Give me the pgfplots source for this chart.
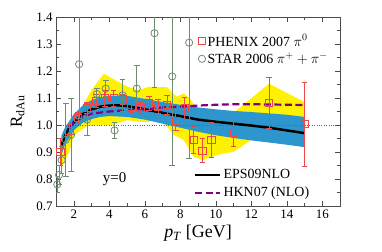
\documentclass[border=0pt]{standalone}
\usepackage{fontspec}
\setmainfont{Liberation Serif}
\usepackage{pgfplots}
\pgfplotsset{compat=1.18}
\definecolor{phx}{RGB}{240,70,70}
\definecolor{star}{RGB}{110,140,110}
\definecolor{band}{RGB}{45,150,205}
\definecolor{hkn}{RGB}{128,0,128}
\pgfplotsset{myax/.style={
  scale only axis, width=284bp, height=189bp,
  xmin=1, xmax=17, ymin=0.7, ymax=1.4,
  xtick={2,4,...,16}, ytick={0.7,0.8,0.9,1.0,1.1,1.2,1.3,1.4},
  minor x tick num=1, minor y tick num=1,
  tick align=inside, major tick length=5bp, minor tick length=3bp,
  /pgf/number format/assume math mode=true,
  yticklabel style={/pgf/number format/fixed,/pgf/number format/fixed zerofill,/pgf/number format/precision=1},
  tick label style={font=\fontsize{13}{15}\selectfont},
  axis line style={black!70},
  tick style={black!70},
}}
\begin{document}
\begin{tikzpicture}
\begin{axis}[myax, hide axis,
  legend style={draw=none, fill=none, at={(0.475,0.215)}, anchor=north west,
    font=\fontsize{14}{16}\selectfont, row sep=3bp, cells={anchor=west}},
  legend image code/.code={\draw[#1] (0bp,0bp) -- (25bp,0bp);}]
\addplot[fill=yellow, draw=none, forget plot] coordinates {
(1.3,0.93) (1.5,0.96) (1.8,1.01) (2.5,1.07) (3.0,1.13) (3.7,1.19) (4.5,1.16) (5.1,1.14) (5.7,1.13) (6.25,1.142) (6.75,1.14) (7.25,1.14) (7.8,1.105) (8.2,1.117) (8.6,1.093) (9.05,1.043) (9.5,1.018) (10.0,1.01) (10.5,1.0) (11.0,1.045) (13.0,1.153) (15.0,1.085)
(15.0,0.96) (14.0,0.975) (13.0,0.99) (12.0,0.945) (11.0,0.90) (10.45,0.895) (9.8,0.883) (9.25,0.87) (8.75,0.883) (8.2,0.944) (7.65,0.963) (7.25,0.994) (6.75,1.03) (6.25,1.012) (5.75,1.012) (5.0,1.018) (4.2,1.0) (3.5,1.0) (2.7,0.995) (2.0,0.96) (1.75,0.90) (1.5,0.87) (1.3,0.84)} -- cycle;
\addplot[fill=band, draw=none, forget plot] coordinates {
(1.3,0.96) (1.5,0.99) (2.0,1.04) (2.5,1.072) (3.0,1.092) (3.5,1.103) (4.0,1.108) (5.0,1.108) (6.0,1.097) (7.0,1.085) (8.0,1.075) (9.0,1.065) (10.0,1.058) (11.0,1.052) (12.0,1.048) (13.0,1.043) (14.0,1.038) (15.0,1.03)
(15.0,0.918) (14.0,0.927) (13.0,0.935) (12.0,0.943) (11.0,0.952) (10.0,0.962) (9.0,0.975) (8.0,0.99) (7.0,1.005) (6.0,1.02) (5.0,1.03) (4.0,1.033) (3.5,1.03) (3.0,1.022) (2.5,1.008) (2.0,0.98) (1.5,0.925) (1.3,0.89)} -- cycle;
\addplot[black!60, dotted, forget plot] coordinates {(1,1) (17,1)};
\addplot[black, line width=2.5bp] coordinates {
(1.3,0.925) (1.5,0.958) (1.75,0.99) (2.0,1.01) (2.5,1.04) (3.0,1.058) (3.5,1.068) (4.0,1.072) (4.5,1.073) (5.0,1.07) (6.0,1.058) (7.0,1.045) (8.0,1.033) (9.0,1.02) (10.0,1.012) (11.0,1.005) (12.0,0.998) (13.0,0.99) (14.0,0.98) (15.0,0.97)};
\addlegendentry{EPS09NLO}
\addplot[hkn, line width=2.2bp, dash pattern=on 7bp off 3.5bp] coordinates {
(1.75,0.99) (2.0,1.01) (2.5,1.03) (3.0,1.042) (4.0,1.05) (5.0,1.055) (6.0,1.06) (7.0,1.065) (8.0,1.068) (9.0,1.072) (10.0,1.075) (11.0,1.077) (12.0,1.077) (13.0,1.076) (14.0,1.075) (15.0,1.074)};
\addlegendentry{HKN07 (NLO)}
\node[font=\fontsize{15}{17}\selectfont] at (axis cs:4.3,0.80) {y=0};
\coordinate (ll) at (rel axis cs:0,0);
\coordinate (ur) at (rel axis cs:1,1);
\end{axis}
\begin{axis}[myax,
  xlabel={\textit{p}\textsubscript{\textit{T}} [GeV]},
  ylabel={R\textsubscript{dAu}},
  xlabel style={font=\fontsize{18}{20}\selectfont},
  ylabel style={font=\fontsize{17}{19}\selectfont, yshift=5bp},
  legend style={draw=none, fill=none, at={(0.49,0.93)}, anchor=north west,
    font=\fontsize{14}{16}\selectfont, row sep=1bp, cells={anchor=west}}]
\addplot[only marks, mark=square, mark size=3.6bp, mark options={draw=phx, line width=0.8bp},
  error bars/.cd, y dir=both, y explicit, error bar style={phx, line width=0.8bp},
  error mark options={rotate=90, mark size=2.8bp, phx, line width=0.8bp}]
table[x=x, y=y, y error=e] {
x y e
1.25 0.900 0.050
1.75 0.978 0.025
2.25 1.025 0.020
2.75 1.063 0.020
3.25 1.090 0.025
3.75 1.100 0.030
4.25 1.100 0.030
4.75 1.095 0.020
5.25 1.066 0.020
5.75 1.064 0.020
6.25 1.080 0.025
6.75 1.068 0.025
7.25 1.074 0.035
7.75 1.015 0.035
8.25 1.062 0.040
8.75 0.945 0.050
9.25 0.905 0.045
9.75 0.945 0.065
11.0 0.970 0.050
13.0 1.083 0.095
15.0 1.003 0.155
};
\addlegendentry{PHENIX 2007 $\pi^0$}
\addplot[only marks, mark=o, mark size=3.6bp, mark options={draw=star, line width=0.8bp},
  error bars/.cd, y dir=both, y explicit, error bar style={star, line width=0.8bp},
  error mark options={rotate=90, mark size=2.8bp, star, line width=0.8bp}]
table[x=x, y=y, y error=e] {
x y e
1.07 0.780 0.030
1.17 0.815 0.035
1.32 0.870 0.050
1.55 0.945 0.135
1.85 0.963 0.135
2.30 1.225 0.200
2.75 1.020 0.060
3.30 1.115 0.020
3.80 1.135 0.030
4.30 0.980 0.030
4.75 1.110 0.060
5.55 1.135 0.085
6.55 1.340 0.200
7.55 1.180 0.330
8.50 1.305 0.430
};
\addlegendentry{STAR 2006 $\pi^+ + \pi^-$}
\end{axis}
\pgfresetboundingbox
\path ([xshift=-56bp,yshift=-46bp]ll) rectangle ([xshift=42bp,yshift=17bp]ur);
\end{tikzpicture}
\end{document}
